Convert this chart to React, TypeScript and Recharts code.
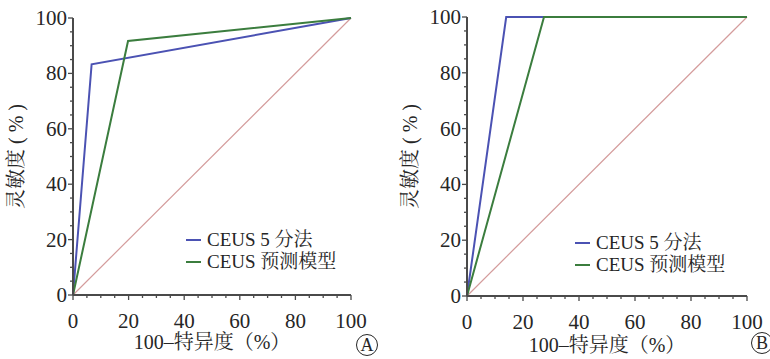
import { Legend, Line, LineChart, XAxis, YAxis } from "recharts";

const FONT = '"Liberation Serif", "Noto Serif CJK SC", "Noto Sans CJK SC", serif';
const TEXT = "#262626";
const AXIS = "#4a4a4a";
const BLUE = "#4b52b3";
const GREEN = "#3b7d3e";
const DIAG = "#d49c9c";

const TICKS = [0, 5, 10, 15, 20, 25, 30, 35, 40, 45, 50, 55, 60, 65, 70, 75, 80, 85, 90, 95, 100];
const MAJOR = [0, 20, 40, 60, 80, 100];

const SERIES_NAMES = ["CEUS 5 分法", "CEUS 预测模型"];
const X_TITLE = "100–特异度（%）";
const Y_TITLE = "灵敏度 ( % )";

// panel A
const A_SCORE_X = [0, 6.7, 100];
const A_SCORE_Y = [0, 83.3, 100];
const A_MODEL_X = [0, 19.8, 100];
const A_MODEL_Y = [0, 91.7, 100];
// panel B
const B_SCORE_X = [0, 14, 100];
const B_SCORE_Y = [0, 100, 100];
const B_MODEL_X = [0, 27.5, 100];
const B_MODEL_Y = [0, 100, 100];
// chance line
const REF_X = [0, 100];
const REF_Y = [0, 100];

const pts = (xs: number[], ys: number[]) => xs.map((x, i) => ({ x, y: ys[i] }));

function YTick(props: any) {
  const { x, y, payload } = props;
  const major = MAJOR.includes(payload.value);
  const len = major ? 5 : 3;
  return (
    <g>
      <line x1={x} x2={x - len} y1={y} y2={y} stroke={AXIS} strokeWidth={1.3} />
      {major && (
        <text x={x - 6} y={y} dy={7} textAnchor="end" fontSize={21} fill={TEXT} fontFamily={FONT}>
          {payload.value}
        </text>
      )}
    </g>
  );
}

function XTick(props: any) {
  const { x, y, payload } = props;
  const major = MAJOR.includes(payload.value);
  const len = major ? 5 : 3;
  return (
    <g>
      <line x1={x} x2={x} y1={y} y2={y + len} stroke={AXIS} strokeWidth={1.3} />
      {major && (
        <text x={x} y={y + 33} textAnchor="middle" fontSize={21} fill={TEXT} fontFamily={FONT}>
          {payload.value}
        </text>
      )}
    </g>
  );
}

function LegendBox({ payload }: any) {
  const items = (payload ?? []).filter((p: any) => p.type !== "none");
  return (
    <div style={{ fontFamily: FONT, fontSize: 19, color: TEXT, lineHeight: "22px" }}>
      {items.map((p: any) => (
        <div key={p.value} style={{ display: "flex", alignItems: "center" }}>
          <span style={{ display: "inline-block", width: 15, height: 2, background: p.color, marginRight: 6 }} />
          <span>{p.value}</span>
        </div>
      ))}
    </div>
  );
}

interface PanelProps {
  left: number;
  yWidth: number;
  margin: { top: number; right: number; bottom: number };
  score: { x: number; y: number }[];
  model: { x: number; y: number }[];
  legendPos: { left: number; top: number };
  yTitleX: number;
  xTitleY: number;
}

function Panel({ left, yWidth, margin, score, model, legendPos, yTitleX, xTitleY }: PanelProps) {
  return (
    <div style={{ position: "absolute", left, top: 0 }}>
      <LineChart width={385} height={359} margin={{ ...margin, left: 0 }}>
        <XAxis
          type="number"
          dataKey="x"
          domain={[0, 100]}
          ticks={TICKS}
          interval={0}
          height={30}
          tickSize={0}
          tickMargin={0}
          tickLine={false}
          tick={<XTick />}
          axisLine={{ stroke: AXIS, strokeWidth: 2 }}
          allowDuplicatedCategory={false}
          label={{
            content: (lp: any) => {
              const vb = lp.viewBox;
              return (
                <text x={vb.x + vb.width / 2} y={xTitleY} textAnchor="middle" fontSize={20} fill={TEXT} fontFamily={FONT}>
                  {X_TITLE}
                </text>
              );
            },
          }}
        />
        <YAxis
          type="number"
          dataKey="y"
          domain={[0, 100]}
          ticks={TICKS}
          interval={0}
          width={yWidth}
          tickSize={0}
          tickMargin={0}
          tickLine={false}
          tick={<YTick />}
          axisLine={{ stroke: AXIS, strokeWidth: 2 }}
          label={{
            content: (lp: any) => {
              const vb = lp.viewBox;
              const cy = vb.y + vb.height / 2;
              return (
                <text
                  x={yTitleX}
                  y={cy}
                  transform={`rotate(-90, ${yTitleX}, ${cy})`}
                  textAnchor="middle"
                  dominantBaseline="central"
                  fontSize={20}
                  fill={TEXT}
                  fontFamily={FONT}
                >
                  {Y_TITLE}
                </text>
              );
            },
          }}
        />
        <Line
          data={pts(REF_X, REF_Y)}
          dataKey="y"
          stroke={DIAG}
          strokeWidth={1.2}
          dot={false}
          legendType="none"
          isAnimationActive={false}
        />
        <Line
          data={score}
          dataKey="y"
          name={SERIES_NAMES[0]}
          stroke={BLUE}
          strokeWidth={2}
          dot={false}
          isAnimationActive={false}
        />
        <Line
          data={model}
          dataKey="y"
          name={SERIES_NAMES[1]}
          stroke={GREEN}
          strokeWidth={2}
          dot={false}
          isAnimationActive={false}
        />
        <Legend
          layout="horizontal"
          align="center"
          verticalAlign="middle"
          content={<LegendBox />}
          wrapperStyle={{ left: legendPos.left, top: legendPos.top, width: "auto", bottom: "auto" }}
        />
      </LineChart>
    </div>
  );
}

function Circled({ left, top, letter }: { left: number; top: number; letter: string }) {
  return (
    <div
      style={{
        position: "absolute",
        left: left - 11,
        top: top - 11,
        width: 20,
        height: 20,
        border: `1.5px solid ${TEXT}`,
        borderRadius: "50%",
        display: "flex",
        alignItems: "center",
        justifyContent: "center",
        fontFamily: FONT,
        fontSize: 18,
        color: TEXT,
        lineHeight: "20px",
      }}
    >
      {letter}
    </div>
  );
}

export default function App() {
  return (
    <div style={{ position: "absolute", left: 0, top: 0, width: 770, height: 359, background: "#fff", overflow: "hidden" }}>
      <Panel
        left={0}
        yWidth={73}
        margin={{ top: 18, right: 34, bottom: 34 }}
        score={pts(A_SCORE_X, A_SCORE_Y)}
        model={pts(A_MODEL_X, A_MODEL_Y)}
        legendPos={{ left: 186, top: 229 }}
        yTitleX={16}
        xTitleY={349}
      />
      <Panel
        left={385}
        yWidth={82}
        margin={{ top: 17, right: 23, bottom: 33 }}
        score={pts(B_SCORE_X, B_SCORE_Y)}
        model={pts(B_MODEL_X, B_MODEL_Y)}
        legendPos={{ left: 190, top: 232 }}
        yTitleX={25}
        xTitleY={352}
      />
      <Circled left={367} top={345} letter="A" />
      <Circled left={762} top={343} letter="B" />
    </div>
  );
}
